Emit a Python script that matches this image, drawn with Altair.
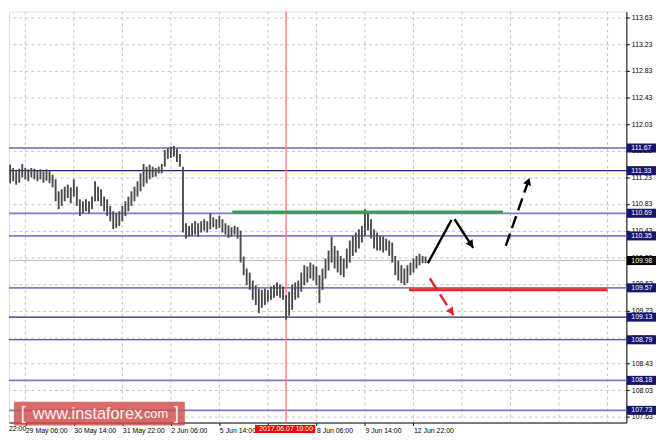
import altair as alt
import pandas as pd

# ---------------- data ----------------
# 2-hour bars, hours counted in trading hours from 29 May 06:00
bar_hours = list(range(-10, 266, 2))
highs = [
    111.42, 111.37, 111.32, 111.36, 111.43, 111.37, 111.35, 111.37, 111.36, 111.33,
    111.35, 111.32, 111.35, 111.32, 111.27, 111.20, 111.02, 111.05, 111.09, 111.12,
    111.08, 111.20, 111.09, 110.90, 110.87, 110.90, 110.87, 110.94, 111.17, 111.09,
    111.05, 110.94, 110.90, 110.80, 110.72, 110.69, 110.72, 110.80, 110.87, 110.94,
    111.02, 111.09, 111.17, 111.29, 111.43, 111.39, 111.42, 111.39, 111.37, 111.39,
    111.43, 111.64, 111.67, 111.69, 111.70, 111.66, 111.58, 111.39, 110.54, 110.50,
    110.54, 110.57, 110.54, 110.57, 110.60, 110.57, 110.69, 110.63, 110.60, 110.65,
    110.60, 110.54, 110.51, 110.48, 110.50, 110.48, 110.43, 110.04, 109.86, 109.80,
    109.68, 109.61, 109.56, 109.54, 109.56, 109.54, 109.59, 109.61, 109.65, 109.62,
    109.59, 109.46, 109.51, 109.62, 109.65, 109.68, 109.80, 109.91, 109.89, 109.95,
    109.92, 109.89, 109.76, 109.86, 110.01, 110.13, 110.34, 110.20, 110.13, 110.05,
    110.01, 110.16, 110.28, 110.35, 110.40, 110.45, 110.50, 110.75, 110.69, 110.60,
    110.45, 110.40, 110.35, 110.34, 110.31, 110.28, 110.25, 110.05, 109.98, 109.91,
    109.86, 109.91, 109.95, 110.01, 110.05, 110.08, 110.05, 110.04]
lows = [
    111.14, 111.17, 111.12, 111.15, 111.23, 111.20, 111.17, 111.23, 111.20, 111.17,
    111.20, 111.15, 111.18, 111.14, 111.08, 110.87, 110.75, 110.80, 110.87, 110.92,
    110.84, 110.94, 110.80, 110.65, 110.69, 110.72, 110.69, 110.75, 110.87, 110.87,
    110.80, 110.72, 110.65, 110.57, 110.45, 110.47, 110.50, 110.57, 110.65, 110.72,
    110.80, 110.87, 110.94, 111.02, 111.09, 111.14, 111.20, 111.23, 111.24, 111.29,
    111.29, 111.39, 111.51, 111.52, 111.54, 111.46, 111.39, 110.40, 110.31, 110.34,
    110.35, 110.37, 110.34, 110.40, 110.43, 110.40, 110.45, 110.48, 110.45, 110.47,
    110.40, 110.37, 110.32, 110.34, 110.37, 110.31, 109.95, 109.76, 109.61, 109.54,
    109.39, 109.31, 109.19, 109.27, 109.31, 109.36, 109.39, 109.42, 109.45, 109.42,
    109.39, 109.09, 109.15, 109.24, 109.39, 109.42, 109.51, 109.61, 109.65, 109.71,
    109.68, 109.61, 109.34, 109.54, 109.71, 109.83, 109.95, 109.86, 109.80, 109.76,
    109.73, 109.86, 109.95, 110.05, 110.10, 110.16, 110.25, 110.35, 110.43, 110.31,
    110.16, 110.13, 110.13, 110.10, 110.13, 110.05, 109.95, 109.76, 109.68, 109.64,
    109.61, 109.64, 109.76, 109.80, 109.86, 109.91, 109.94, 109.94]

level_prices = [111.67, 111.33, 110.69, 110.35, 109.57, 109.13, 108.79, 108.18, 107.73]
level_kind = ["dark", "dark", "light", "light", "light", "dark", "dark", "light", "light"]
current_price = 109.98

price_ticks = [107.63, 108.03, 108.43, 108.83, 109.23, 109.63, 110.03, 110.43,
               110.83, 111.23, 111.63, 112.03, 112.43, 112.83, 113.23, 113.63]

time_tick_hours = [0, 32, 64, 96, 128, 160, 192, 224, 256]
time_tick_labels = ["29 May 06:00", "30 May 14:00", "31 May 22:00", "2 Jun 06:00",
                    "5 Jun 14:00", "", "8 Jun 06:00", "9 Jun 14:00", "12 Jun 22:00"]
grid_hours = [0, 32, 64, 96, 128, 160, 192, 224, 256, 288, 320, 352, 384]

marker_hour = 172            # 2017.06.07 10:00
marker_label = "2017.06.07 10:00"

green_start, green_end, green_price = 136.5, 315.0, 110.71
red_start, red_end, red_price = 253.0, 384.0, 109.54

seg_h1 = [265.5, 283.1, 316.9, 266.8]
seg_p1 = [109.94, 110.60, 110.20, 109.71]
seg_h2 = [281.1, 295.4, 332.6, 282.4]
seg_p2 = [110.59, 110.17, 111.23, 109.16]
seg_color = ["#000000", "#000000", "#000000", "#ee2020"]
seg_dash = ["solid", "solid", "dash", "dash"]

head_h = [294.0, 331.7, 281.0]
head_p = [110.22, 111.17, 109.21]
head_angle = [147, 19, 147]
head_color = ["#000000", "#000000", "#ee2020"]

# ---------------- scales / axes ----------------
W, H = 625, 416
xs = alt.Scale(domain=[-10.75, 396.4], nice=False, zero=False)
ys = alt.Scale(domain=[107.547, 113.719], nice=False, zero=False)
FONT = "Liberation Sans"

label_expr = " : ".join(
    f"datum.value == {h} ? '{t}'" for h, t in zip(time_tick_hours, time_tick_labels)
) + " : ''"

x_axis = alt.Axis(values=time_tick_hours, labelExpr=label_expr, title=None, grid=False,
                  domainColor="#000000", tickColor="#000000", tickSize=3,
                  labelFontSize=7, labelFont=FONT, labelColor="#000000",
                  labelAlign="left", labelPadding=1, labelOverlap=False, labelFlush=False)
y_axis = alt.Axis(values=price_ticks, format=".2f", orient="right", title=None,
                  grid=True, gridDash=[3, 3], gridColor="#c4c4c4",
                  domainColor="#000000", tickColor="#000000", tickSize=3,
                  labelFontSize=7, labelFont=FONT, labelColor="#000000",
                  labelPadding=2, labelOverlap=False, labelFlush=False)


def X(f):
    return alt.X(f, scale=xs, axis=x_axis)


def Y(f):
    return alt.Y(f, scale=ys, axis=y_axis)


bars_df = pd.DataFrame({"h": bar_hours, "hi": highs, "lo": lows})

bars = alt.Chart(bars_df).mark_rule(color="#4a4a4a", strokeWidth=1.9).encode(
    x=X("h:Q"), y=Y("lo:Q"), y2="hi:Q",
)

vgrid = alt.Chart(pd.DataFrame({"h": grid_hours})).mark_rule(
    color="#c4c4c4", strokeDash=[3, 3], strokeWidth=1
).encode(x=X("h:Q"))

lev_df = pd.DataFrame({"p": level_prices, "kind": level_kind,
                       "lab": [f"{v:.2f}" for v in level_prices]})
levels_dark = alt.Chart(lev_df[lev_df.kind == "dark"]).mark_rule(
    color="#23237f", strokeWidth=1.2).encode(y=Y("p:Q"))
levels_light = alt.Chart(lev_df[lev_df.kind == "light"]).mark_rule(
    color="#7c7cc8", strokeWidth=1.8).encode(y=Y("p:Q"))

cur_df = pd.DataFrame({"p": [current_price], "lab": [f"{current_price:.2f}"]})
cur_line = alt.Chart(cur_df).mark_rule(color="#bdbdbd", strokeWidth=1).encode(y=Y("p:Q"))

marker_line = alt.Chart(pd.DataFrame({"h": [marker_hour]})).mark_rule(
    color="#ff7a7a", strokeWidth=1.4).encode(x=X("h:Q"))

green = alt.Chart(pd.DataFrame({"a": [green_start], "b": [green_end], "p": [green_price]})
                  ).mark_rule(color="#3a9f48", strokeWidth=3).encode(
    x=X("a:Q"), x2="b:Q", y=Y("p:Q"))
redl = alt.Chart(pd.DataFrame({"a": [red_start], "b": [red_end], "p": [red_price]})
                 ).mark_rule(color="#ee2a2a", strokeWidth=3).encode(
    x=X("a:Q"), x2="b:Q", y=Y("p:Q"))

seg_df = pd.DataFrame({"h1": seg_h1, "p1": seg_p1, "h2": seg_h2, "p2": seg_p2,
                       "c": seg_color, "d": seg_dash})
seg_solid = alt.Chart(seg_df[seg_df.d == "solid"]).mark_rule(strokeWidth=2.4).encode(
    x=X("h1:Q"), y=Y("p1:Q"), x2="h2:Q", y2="p2:Q",
    color=alt.Color("c:N", scale=None))
seg_dashed = alt.Chart(seg_df[seg_df.d == "dash"]).mark_rule(
    strokeWidth=2.4, strokeDash=[13, 6]).encode(
    x=X("h1:Q"), y=Y("p1:Q"), x2="h2:Q", y2="p2:Q",
    color=alt.Color("c:N", scale=None))

heads = alt.Chart(pd.DataFrame({"h": head_h, "p": head_p, "a": head_angle, "c": head_color})
                  ).mark_point(shape="triangle-up", filled=True, size=70, opacity=1).encode(
    x=X("h:Q"), y=Y("p:Q"),
    angle=alt.Angle("a:Q", scale=None), color=alt.Color("c:N", scale=None))

# price boxes on the right axis
lev_box = alt.Chart(lev_df).mark_rect(color="#16166e").encode(
    x=alt.value(625.5), x2=alt.value(655),
    y=Y("top:Q"), y2="bot:Q"
).transform_calculate(top="datum.p + 0.068", bot="datum.p - 0.068")
lev_txt = alt.Chart(lev_df).mark_text(color="white", fontSize=7, font=FONT,
                                      align="left", baseline="middle").encode(
    x=alt.value(630), y=Y("p:Q"), text="lab:N")
cur_box = alt.Chart(cur_df).mark_rect(color="#000000").encode(
    x=alt.value(625.5), x2=alt.value(655),
    y=Y("top:Q"), y2="bot:Q"
).transform_calculate(top="datum.p + 0.068", bot="datum.p - 0.068")
cur_txt = alt.Chart(cur_df).mark_text(color="white", fontSize=7, font=FONT,
                                      align="left", baseline="middle").encode(
    x=alt.value(630), y=Y("p:Q"), text="lab:N")

# red date box under the marker line
mk_df = pd.DataFrame({"h": [marker_hour], "a": [151.5], "b": [191.2], "t": [marker_label]})
mk_box = alt.Chart(mk_df).mark_rect(color="#ff0000").encode(
    x=X("a:Q"), x2="b:Q", y=alt.value(418.5), y2=alt.value(426.5))
mk_txt = alt.Chart(mk_df).mark_text(color="white", fontSize=7, font=FONT,
                                    align="center", baseline="middle").encode(
    x=X("h:Q"), y=alt.value(422.8), text="t:N")
first_lbl = alt.Chart(pd.DataFrame({"t": ["22:00"]})).mark_text(
    color="black", fontSize=7, font=FONT, align="left", baseline="middle").encode(
    x=alt.value(0), y=alt.value(422.8), text="t:N")

# watermark
wm_box = alt.Chart(pd.DataFrame({"k": [0]})).mark_rect(color="#d24a4a", opacity=0.82).encode(
    x=alt.value(5), x2=alt.value(178), y=alt.value(395), y2=alt.value(419))
wm_df = pd.DataFrame({"t": ["[", "www.instaforex", ".com", "]"],
                      "x": [12, 24, 133, 167], "s": [18, 16.5, 13, 18]})
wm_txt = alt.Chart(wm_df).mark_text(color="#f4f4f4", font=FONT, align="left",
                                    baseline="middle").encode(
    x=alt.X("x:Q", scale=None), y=alt.value(407), text="t:N",
    size=alt.Size("s:Q", scale=None))

chart = alt.layer(
    vgrid, cur_line, levels_light, levels_dark, marker_line, bars,
    green, redl, seg_solid, seg_dashed, heads,
    lev_box, lev_txt, cur_box, cur_txt, mk_box, mk_txt, first_lbl,
    wm_box, wm_txt
).properties(
    width=W, height=H, padding={"left": 0, "top": 0, "right": 0, "bottom": 0}
).configure_view(stroke=None).configure_axis(labelOverlap=False).configure(background="white")

chart.save("out.html", embed_options={"renderer": "svg", "actions": False})
